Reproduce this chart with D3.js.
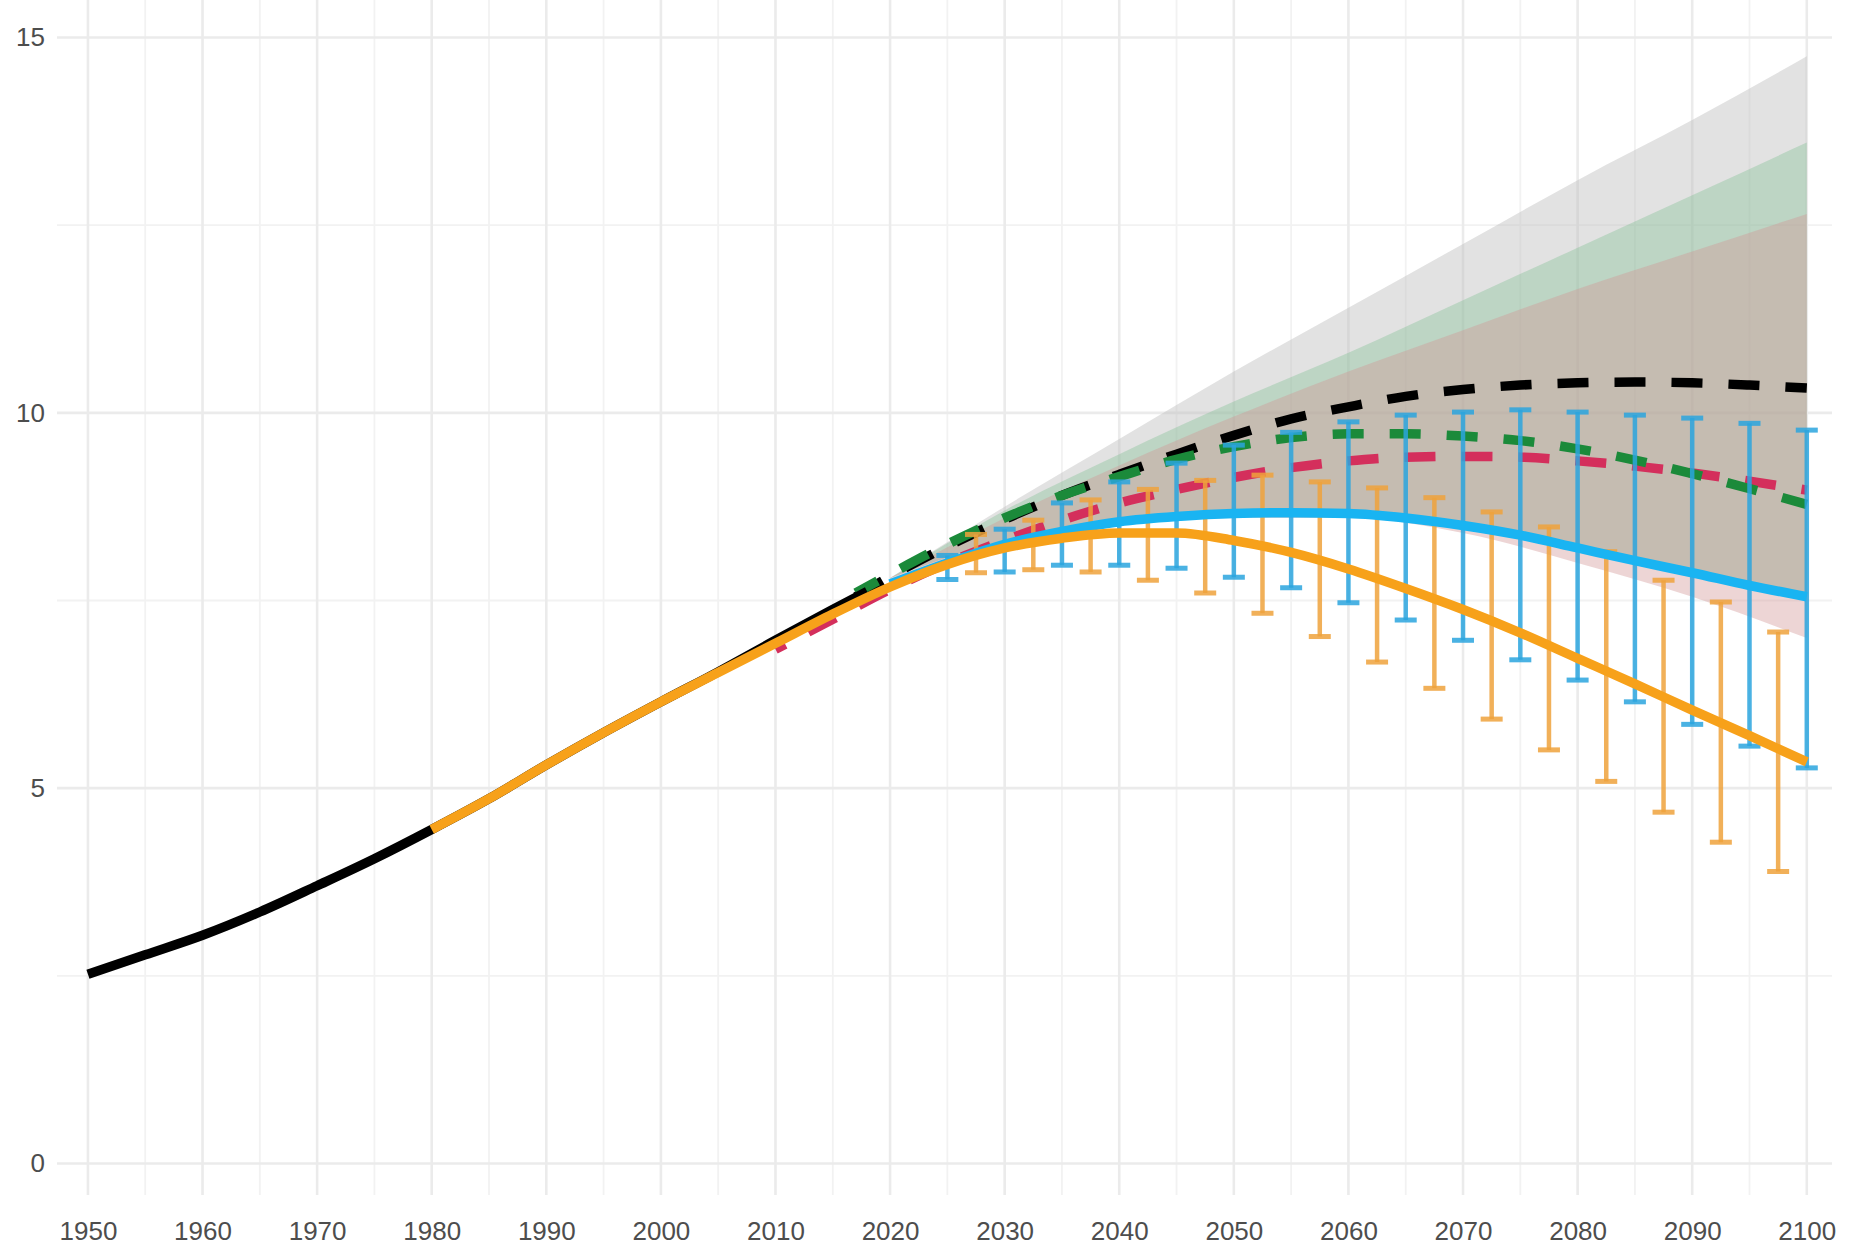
<!DOCTYPE html>
<html>
<head>
<meta charset="utf-8">
<script src="https://cdn.jsdelivr.net/npm/d3@7"></script>
<style>
  html, body { margin: 0; padding: 0; background: #fff; }
  svg { display: block; }
  .tick text { font-family: "Liberation Sans", Arial, sans-serif; font-size: 26px; fill: #4d4d4d; }
</style>
</head>
<body>
<svg id="chart"></svg>
<script>
// axis ticks
const xTicks = [1950, 1960, 1970, 1980, 1990, 2000, 2010, 2020, 2030, 2040, 2050, 2060, 2070, 2080, 2090, 2100];
const xMinor = [1955, 1965, 1975, 1985, 1995, 2005, 2015, 2025, 2035, 2045, 2055, 2065, 2075, 2085, 2095];
const yTicks = [0, 5, 10, 15];
const yMinor = [2.5, 7.5, 12.5];

// observed history (black solid)
const histYears = [1950, 1955, 1960, 1965, 1970, 1975, 1980, 1985, 1990, 1995, 2000, 2005, 2010, 2015, 2018];
const histValues = [2.52, 2.78, 3.04, 3.35, 3.70, 4.06, 4.45, 4.86, 5.31, 5.74, 6.15, 6.55, 6.97, 7.38, 7.62];

// orange solid
const orangeYears = [1980, 1985, 1990, 1995, 2000, 2005, 2010, 2015, 2020, 2025, 2030, 2035, 2040, 2045, 2050, 2055, 2060, 2065, 2070, 2075, 2080, 2085, 2090, 2095, 2100];
const orangeValues = [4.45, 4.86, 5.31, 5.74, 6.15, 6.54, 6.93, 7.32, 7.68, 7.98, 8.2, 8.33, 8.4, 8.4, 8.3, 8.14, 7.92, 7.66, 7.38, 7.07, 6.73, 6.39, 6.04, 5.7, 5.35];

// blue solid
const blueYears = [2020, 2025, 2030, 2035, 2040, 2045, 2050, 2055, 2060, 2065, 2070, 2075, 2080, 2085, 2090, 2095, 2100];
const blueValues = [7.72, 8.0, 8.25, 8.42, 8.55, 8.62, 8.66, 8.67, 8.66, 8.6, 8.5, 8.37, 8.2, 8.03, 7.87, 7.7, 7.55];

// dashed projections
const blackDashYears = [2017, 2020, 2025, 2030, 2035, 2040, 2045, 2050, 2055, 2060, 2065, 2070, 2075, 2080, 2085, 2090, 2095, 2100];
const blackDashValues = [7.55, 7.82, 8.22, 8.58, 8.9, 9.18, 9.45, 9.7, 9.92, 10.08, 10.22, 10.31, 10.37, 10.4, 10.41, 10.4, 10.37, 10.33];
const greenDashYears = [2017, 2020, 2025, 2030, 2035, 2040, 2045, 2050, 2055, 2060, 2065, 2070, 2075, 2080, 2085, 2090, 2095, 2100];
const greenDashValues = [7.6, 7.85, 8.25, 8.6, 8.9, 9.15, 9.38, 9.55, 9.67, 9.72, 9.72, 9.69, 9.63, 9.52, 9.37, 9.19, 8.99, 8.78];
const redDashYears = [2010, 2015, 2020, 2025, 2030, 2035, 2040, 2045, 2050, 2055, 2060, 2065, 2070, 2075, 2080, 2085, 2090, 2095, 2100];
const redDashValues = [6.85, 7.25, 7.65, 8.0, 8.3, 8.57, 8.8, 8.98, 9.14, 9.27, 9.36, 9.41, 9.42, 9.41, 9.36, 9.29, 9.2, 9.09, 8.97];

// shaded ranges
const ribbonYears = [2020, 2030, 2040, 2050, 2060, 2070, 2080, 2090, 2100];
const greyHi = [7.8, 8.75, 9.65, 10.55, 11.4, 12.25, 13.1, 13.9, 14.75];
const greenHi = [7.8, 8.7, 9.45, 10.15, 10.8, 11.5, 12.2, 12.9, 13.6];
const pinkHi = [7.8, 8.6, 9.3, 9.95, 10.55, 11.1, 11.65, 12.15, 12.65];
const greyLo = [7.8, 8.3, 8.55, 8.65, 8.65, 8.5, 8.2, 7.88, 7.55];
const pinkLo = [7.75, 8.25, 8.5, 8.6, 8.6, 8.4, 8.0, 7.55, 7.0];

// error bars
const blueBarYears = [2025, 2030, 2035, 2040, 2045, 2050, 2055, 2060, 2065, 2070, 2075, 2080, 2085, 2090, 2095, 2100];
const blueBarHi = [8.1, 8.45, 8.8, 9.08, 9.33, 9.57, 9.74, 9.88, 9.97, 10.01, 10.04, 10.01, 9.97, 9.93, 9.86, 9.77];
const blueBarLo = [7.78, 7.88, 7.97, 7.97, 7.93, 7.81, 7.67, 7.47, 7.24, 6.97, 6.71, 6.44, 6.15, 5.85, 5.56, 5.27];
const orangeBarYears = [2027.5, 2032.5, 2037.5, 2042.5, 2047.5, 2052.5, 2057.5, 2062.5, 2067.5, 2072.5, 2077.5, 2082.5, 2087.5, 2092.5, 2097.5];
const orangeBarHi = [8.38, 8.57, 8.84, 8.98, 9.1, 9.17, 9.08, 9.0, 8.87, 8.68, 8.48, 8.15, 7.77, 7.48, 7.08];
const orangeBarLo = [7.87, 7.91, 7.88, 7.77, 7.6, 7.33, 7.02, 6.68, 6.33, 5.92, 5.51, 5.09, 4.68, 4.28, 3.89];

const width = 1864, height = 1253;
const panel = {left: 57, right: 1832, top: 0, bottom: 1195};

const svg = d3.select('#chart').attr('width', width).attr('height', height);
svg.append('rect').attr('width', width).attr('height', height).attr('fill', '#fff');

const x = d3.scaleLinear().domain([1947.3, 2102.2]).range([panel.left, panel.right]);
const y = d3.scaleLinear().domain([-0.42, 15.5]).range([panel.bottom, panel.top]);

// gridlines (minor first, then major)
const grid = svg.append('g');
grid.selectAll('.vminor').data(xMinor).enter().append('line')
    .attr('x1', d => x(d)).attr('x2', d => x(d))
    .attr('y1', panel.top).attr('y2', panel.bottom)
    .attr('stroke', '#f2f2f2').attr('stroke-width', 1.8);
grid.selectAll('.hminor').data(yMinor).enter().append('line')
    .attr('x1', panel.left).attr('x2', panel.right)
    .attr('y1', d => y(d)).attr('y2', d => y(d))
    .attr('stroke', '#f2f2f2').attr('stroke-width', 1.8);
grid.selectAll('.vmajor').data(xTicks).enter().append('line')
    .attr('x1', d => x(d)).attr('x2', d => x(d))
    .attr('y1', panel.top).attr('y2', panel.bottom)
    .attr('stroke', '#ebebeb').attr('stroke-width', 2.6);
grid.selectAll('.hmajor').data(yTicks).enter().append('line')
    .attr('x1', panel.left).attr('x2', panel.right)
    .attr('y1', d => y(d)).attr('y2', d => y(d))
    .attr('stroke', '#ebebeb').attr('stroke-width', 2.6);

// tick labels
const xAxis = svg.append('g')
    .attr('transform', 'translate(0,' + panel.bottom + ')')
    .call(d3.axisBottom(x).tickValues(xTicks).tickFormat(d3.format('d')).tickSize(0).tickPadding(27));
xAxis.select('.domain').remove();
const yAxis = svg.append('g')
    .attr('transform', 'translate(' + panel.left + ',0)')
    .call(d3.axisLeft(y).tickValues(yTicks).tickSize(0).tickPadding(12));
yAxis.select('.domain').remove();

function zip(xs, ys) {
  return xs.map((d, i) => [d, ys[i]]);
}

// ribbons
const area = d3.area()
    .x(d => x(d[0]))
    .y0(d => y(d[1]))
    .y1(d => y(d[2]))
    .curve(d3.curveMonotoneX);
const ribbons = [
  {lo: greyLo, hi: greyHi, fill: 'rgb(190,190,190)', op: 0.45},
  {lo: greyLo, hi: greenHi, fill: 'rgb(120,190,140)', op: 0.35},
  {lo: pinkLo, hi: pinkHi, fill: 'rgb(210,150,150)', op: 0.4}
];
ribbons.forEach(r => {
  svg.append('path')
      .datum(ribbonYears.map((d, i) => [d, r.lo[i], r.hi[i]]))
      .attr('d', area)
      .attr('fill', r.fill)
      .attr('fill-opacity', r.op);
});

const line = d3.line()
    .x(d => x(d[0]))
    .y(d => y(d[1]))
    .curve(d3.curveMonotoneX);

// dashed lines
[
  {xs: blackDashYears, ys: blackDashValues, color: '#000000', offset: 0},
  {xs: redDashYears, ys: redDashValues, color: '#d42f5c', offset: 20},
  {xs: greenDashYears, ys: greenDashValues, color: '#1b8a3a', offset: 6}
].forEach(s => {
  svg.append('path')
      .datum(zip(s.xs, s.ys))
      .attr('d', line)
      .attr('fill', 'none')
      .attr('stroke', s.color)
      .attr('stroke-width', 9.5)
      .attr('stroke-dasharray', '31,26')
      .attr('stroke-dashoffset', s.offset);
});

// error bars
function errorBars(years, lo, hi, color) {
  const g = svg.append('g').attr('stroke', color).attr('stroke-opacity', 0.85);
  const bars = years.map((d, i) => ({year: d, lo: lo[i], hi: hi[i]}));
  g.selectAll('.stem').data(bars).enter().append('line')
      .attr('x1', d => x(d.year)).attr('x2', d => x(d.year))
      .attr('y1', d => y(d.lo)).attr('y2', d => y(d.hi))
      .attr('stroke-width', 4.5);
  g.selectAll('.caplo').data(bars).enter().append('line')
      .attr('x1', d => x(d.year) - 11).attr('x2', d => x(d.year) + 11)
      .attr('y1', d => y(d.lo)).attr('y2', d => y(d.lo))
      .attr('stroke-width', 5);
  g.selectAll('.caphi').data(bars).enter().append('line')
      .attr('x1', d => x(d.year) - 11).attr('x2', d => x(d.year) + 11)
      .attr('y1', d => y(d.hi)).attr('y2', d => y(d.hi))
      .attr('stroke-width', 5);
}
errorBars(orangeBarYears, orangeBarLo, orangeBarHi, '#eea23c');
errorBars(blueBarYears, blueBarLo, blueBarHi, '#2aa4de');

// solid lines
[
  {xs: histYears, ys: histValues, color: '#000000'},
  {xs: blueYears, ys: blueValues, color: '#19b4f2'},
  {xs: orangeYears, ys: orangeValues, color: '#f7a11a'}
].forEach(s => {
  svg.append('path')
      .datum(zip(s.xs, s.ys))
      .attr('d', line)
      .attr('fill', 'none')
      .attr('stroke', s.color)
      .attr('stroke-width', 9.5);
});
</script>
</body>
</html>
